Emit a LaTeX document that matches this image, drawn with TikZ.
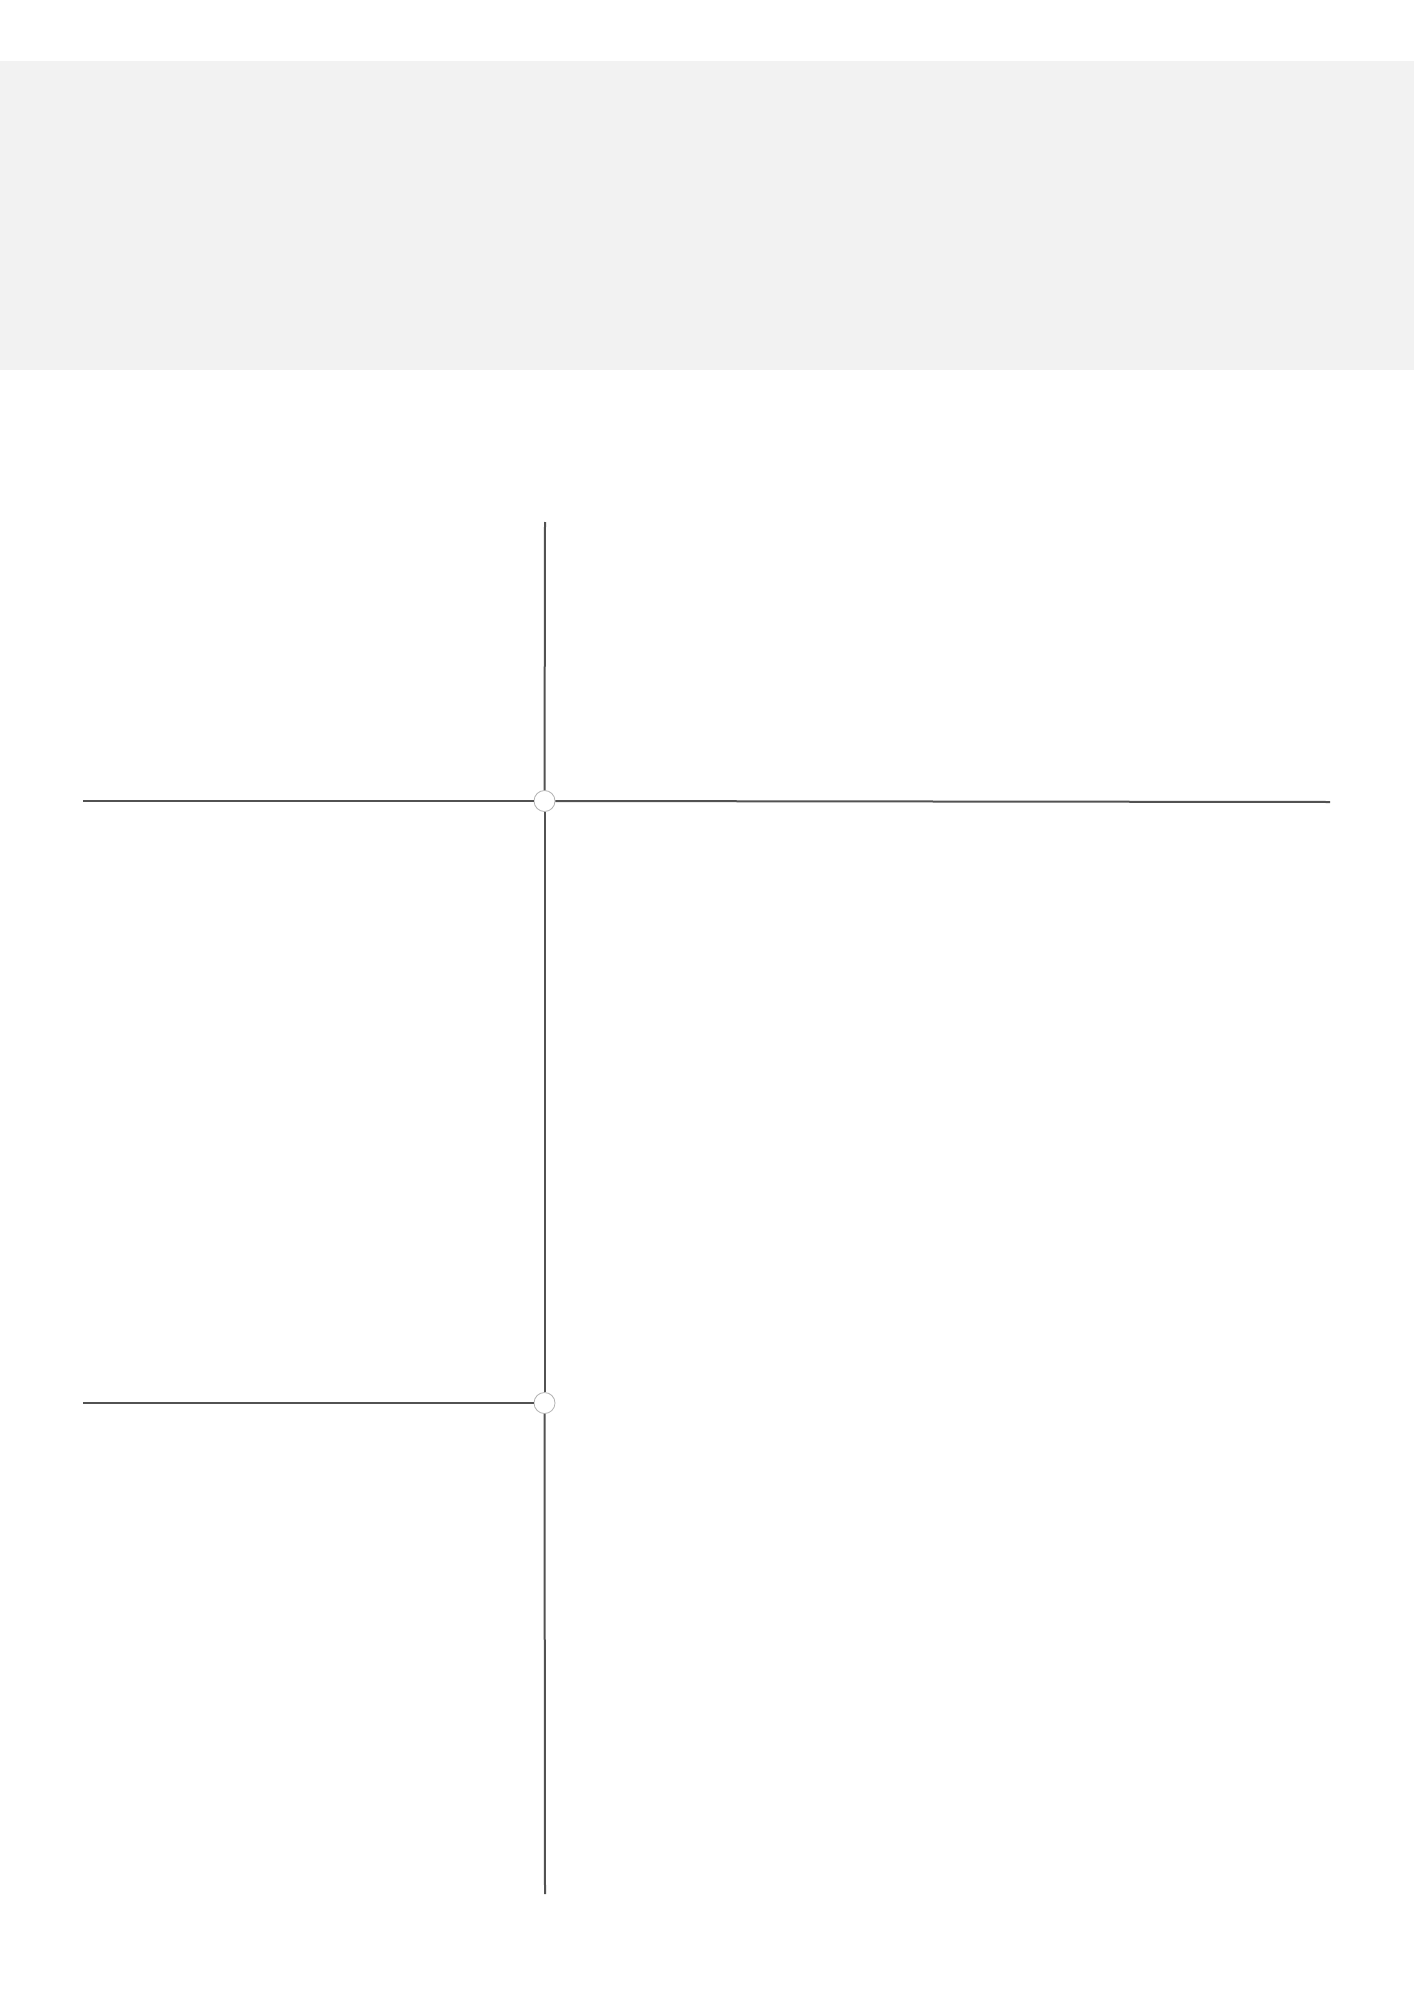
\documentclass[tikz,border=0pt]{standalone}
\begin{document}
\begin{tikzpicture}[x=0.5pt,y=-0.5pt,
  wire/.style={draw=black!68,line width=1pt},
  junction/.style={circle,draw=black!30,line width=0.4pt,fill=white,minimum size=10.5pt,inner sep=0pt}]
\useasboundingbox (0,0) rectangle (1414,2000);
\fill[white] (0,0) rectangle (1414,2000);
\fill[black!5] (0,61) rectangle (1414,370);
\coordinate (top) at (545,522);
\coordinate (bot) at (545,1894);
\coordinate (l1) at (83,801);
\coordinate (r1) at (1330,802);
\coordinate (l2) at (83,1403);
\node[junction] (j1) at (544.5,801) {};
\node[junction] (j2) at (544.5,1403) {};
\draw[wire] (top) -- (j1);
\draw[wire] (j1) -- (j2);
\draw[wire] (j2) -- (bot);
\draw[wire] (l1) -- (j1);
\draw[wire] (j1) -- (r1);
\draw[wire] (l2) -- (j2);
\end{tikzpicture}
\end{document}
